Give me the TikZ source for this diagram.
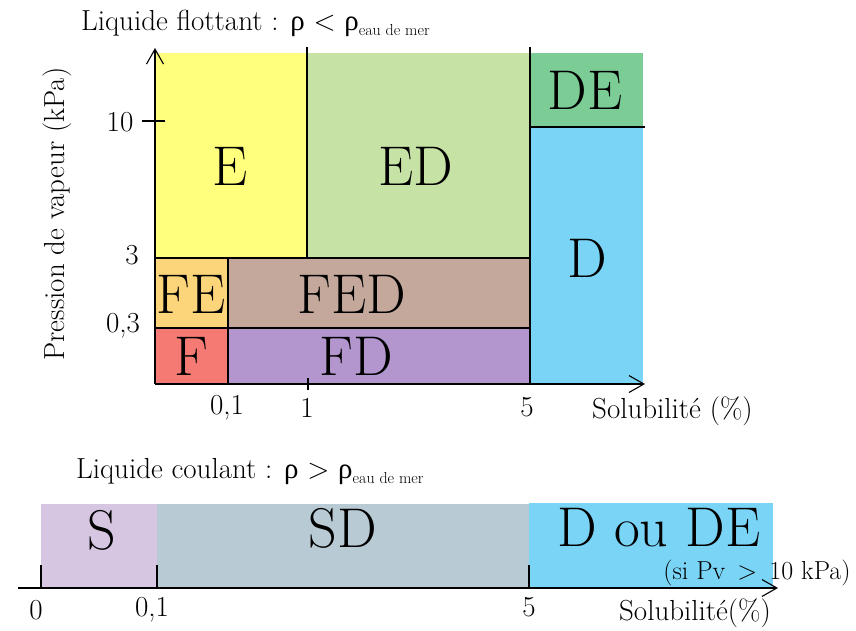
\documentclass[tikz,border=0pt]{standalone}
\usepackage{fontspec}
\newfontfamily\greekfont{Liberation Serif}
\usepackage{xcolor}
\usepackage{tikz}
\usetikzlibrary{arrows.meta, positioning}

\definecolor{colE}{RGB}{255,255,125}
\definecolor{colED}{RGB}{198,226,164}
\definecolor{colDE}{RGB}{124,204,150}
\definecolor{colD}{RGB}{122,212,246}
\definecolor{colFE}{RGB}{252,212,122}
\definecolor{colFED}{RGB}{196,168,156}
\definecolor{colF}{RGB}{246,122,116}
\definecolor{colFD}{RGB}{180,150,206}
\definecolor{colS}{RGB}{214,198,226}
\definecolor{colSD}{RGB}{184,202,212}

\newcommand{\rhosub}[1]{{\greekfont ρ}\raisebox{-5pt}{\fontsize{16}{16}\selectfont #1}}

\begin{document}
\begin{tikzpicture}[x=1pt, y=-1pt,
  zone/.style={font=\fontsize{56}{60}\selectfont, inner sep=0pt},
  lbl/.style={font=\fontsize{29}{32}\selectfont, inner sep=1pt},
  small/.style={font=\fontsize{26}{28}\selectfont, inner sep=1pt},
  axis/.style={-{Straight Barb[length=15pt, width=17pt]}, line width=1.1pt},
  border/.style={line width=1.1pt}
]
  \useasboundingbox (0,0) rectangle (856,631);

  % Floating liquid: zones
  \fill[colE]   (155,53)  rectangle (307,258);
  \fill[colED]  (307,53)  rectangle (530,258);
  \fill[colDE]  (530,53)  rectangle (643,127);
  \fill[colD]   (530,127) rectangle (643,384);
  \fill[colFE]  (155,258) rectangle (228,328);
  \fill[colFED] (228,258) rectangle (530,328);
  \fill[colF]   (155,328) rectangle (228,384);
  \fill[colFD]  (228,328) rectangle (530,384);

  % Borders
  \draw[border] (307,47) -- (307,258);
  \draw[border] (530,47) -- (530,384);
  \draw[border] (155,258) -- (530,258);
  \draw[border] (155,328) -- (530,328);
  \draw[border] (228,258) -- (228,384);
  \draw[border] (530,127) -- (645,127);

  % Axes and ticks
  \draw[axis] (155,384) -- (155,48);
  \draw[axis] (155,384) -- (645,384);
  \draw[border] (142,121) -- (165,121);
  \draw[border] (308,378) -- (308,390);

  % Zone letters
  \node[zone] (zE)   at (230,166) {E};
  \node[zone] (zED)  at (416,166) {ED};
  \node[zone] (zDE)  at (585,90)  {DE};
  \node[zone] (zD)   at (587,258) {D};
  \node[zone] (zFE)  at (191,294) {FE};
  \node[zone] (zFED) at (352,294) {FED};
  \node[zone] (zF)   at (191,356) {F};
  \node[zone] (zFD)  at (356,356) {FD};

  % Axis labels
  \node[lbl] (t10) at (120,122) {10};
  \node[lbl] (t3)  at (132,255) {3};
  \node[lbl] (t03) at (123,326) {0,3};
  \node[lbl] (t01) at (227,408) {0,1};
  \node[lbl] (t1)  at (307,408) {1};
  \node[lbl] (t5)  at (527,407) {5};
  \node[lbl, anchor=west] (solA) at (591,411) {Solubilité (\%)};
  \node[lbl, rotate=90] (pv) at (57,214) {Pression de vapeur (kPa)};
  \node[lbl, anchor=west] (titA) at (80,23)
    {Liquide flottant : {\greekfont ρ} < \rhosub{eau de mer}};

  % Sinking liquid: zones
  \fill[colS]  (41,504)  rectangle (157,588);
  \fill[colSD] (157,504) rectangle (529,588);
  \fill[colD]  (529,503) rectangle (773,588);

  % Axis and ticks
  \draw[axis] (18,588) -- (778,588);
  \foreach \x in {41, 157, 529} {
    \draw[border] (\x,565) -- (\x,588);
  }

  % Zone letters
  \node[zone] (zS)    at (102,530) {S};
  \node[zone] (zSD)   at (343,528) {SD};
  \node[zone] (zDoDE) at (659,528) {D ou DE};
  \node[small] (cond) at (757,573) {(si Pv \,>\, 10 kPa)};

  % Axis labels
  \node[lbl] (b0)  at (36,610)  {0};
  \node[lbl] (b01) at (152,610) {0,1};
  \node[lbl] (b5)  at (529,607) {5};
  \node[lbl] (solB) at (695,613) {Solubilité(\%)};
  \node[lbl, anchor=west] (titB) at (75,472)
    {Liquide coulant : {\greekfont ρ} > \rhosub{eau de mer}};
\end{tikzpicture}
\end{document}
